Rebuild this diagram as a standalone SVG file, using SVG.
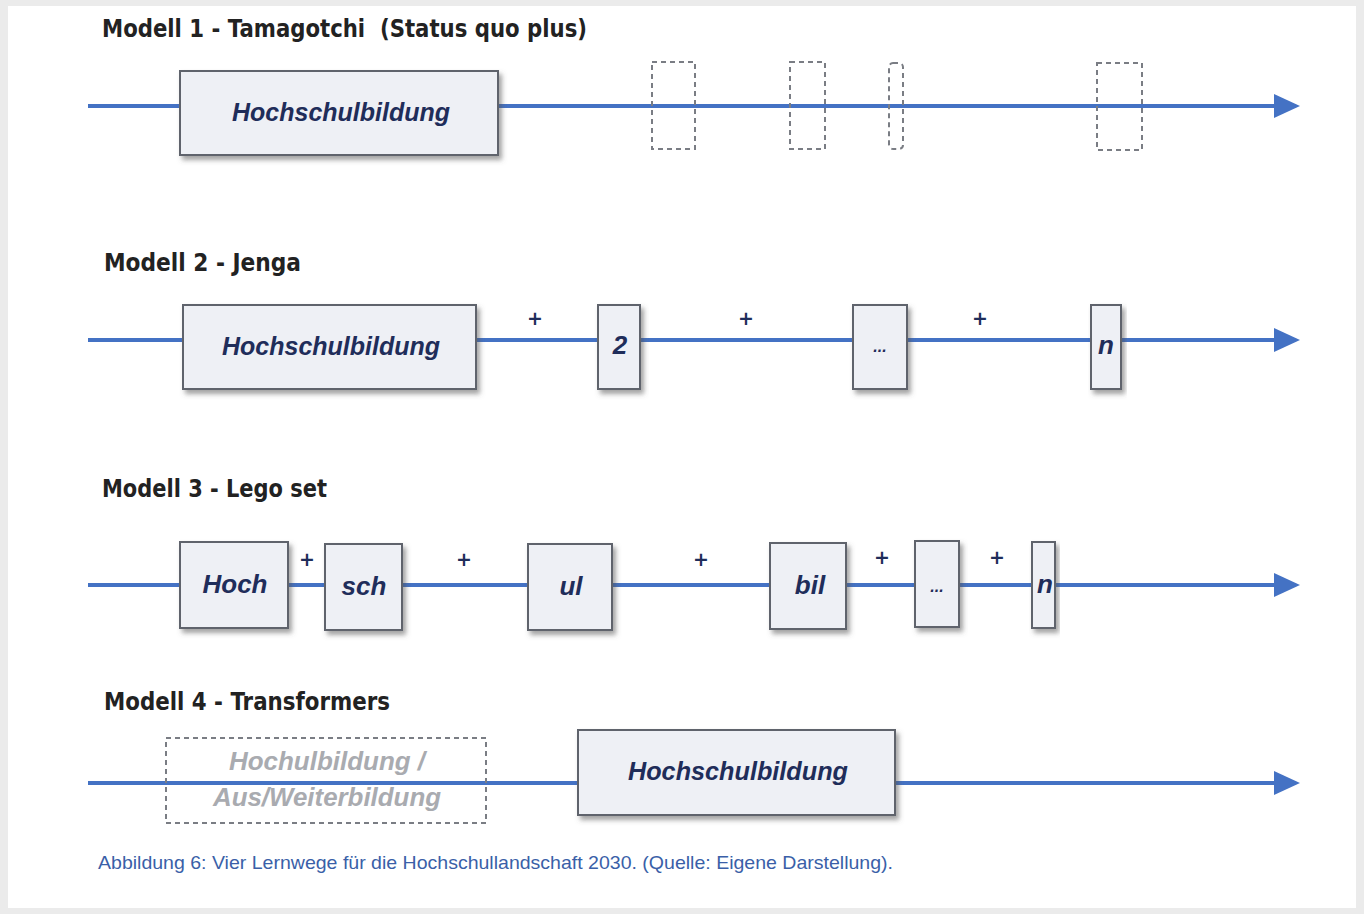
<svg xmlns="http://www.w3.org/2000/svg" width="1364" height="914" viewBox="0 0 1364 914">
<style>
.title{font-family:"DejaVu Sans",sans-serif;font-weight:bold;font-size:24px;fill:#222;white-space:pre}
.box{fill:#eef0f5;stroke:#5f636c;stroke-width:2}
.lbl{font-family:"Liberation Sans",Arial,sans-serif;font-weight:bold;font-style:italic;font-size:26px;fill:#1f2d5a;text-anchor:middle}
.dash{fill:none;stroke:#7a7d84;stroke-width:2;stroke-dasharray:5,4}
.line{stroke:#4472c4;stroke-width:4;fill:none}
.plus{font-family:"DejaVu Sans",sans-serif;font-weight:bold;font-size:19px;fill:#1f2d5a;text-anchor:middle}
.ghost{font-family:"Liberation Sans",Arial,sans-serif;font-weight:bold;font-style:italic;font-size:26px;fill:#a9abb0;text-anchor:middle}
</style>
<defs>
<filter id="sh" x="-10%" y="-10%" width="130%" height="130%">
<feDropShadow dx="3" dy="4" stdDeviation="2.5" flood-color="#555" flood-opacity="0.55"/>
</filter>
<marker id="ah" markerWidth="26" markerHeight="24" refX="2" refY="12" markerUnits="userSpaceOnUse" orient="auto">
<path d="M0,0 L26,12 L0,24 Z" fill="#4472c4"/>
</marker>
</defs>
<rect x="0" y="0" width="1364" height="914" fill="#ebebeb"/>
<rect x="8" y="6" width="1348" height="902" fill="#ffffff"/>

<g id="connectors">
<line class="line" x1="88" y1="106" x2="1276" y2="106" marker-end="url(#ah)"/>
<line class="line" x1="88" y1="340" x2="1276" y2="340" marker-end="url(#ah)"/>
<line class="line" x1="88" y1="585" x2="1276" y2="585" marker-end="url(#ah)"/>
<line class="line" x1="88" y1="783" x2="1276" y2="783" marker-end="url(#ah)"/>
</g>

<g id="titles">
<text class="title" x="102" y="37" textLength="485" lengthAdjust="spacingAndGlyphs" xml:space="preserve">Modell 1 - Tamagotchi  (Status quo plus)</text>
<text class="title" x="104" y="271" textLength="197" lengthAdjust="spacingAndGlyphs">Modell 2 - Jenga</text>
<text class="title" x="102" y="497" textLength="225" lengthAdjust="spacingAndGlyphs">Modell 3 - Lego set</text>
<text class="title" x="104" y="710" textLength="286" lengthAdjust="spacingAndGlyphs">Modell 4 - Transformers</text>
</g>

<!-- Model 1 -->
<g id="m1-hochschulbildung">
<rect class="box" x="180" y="71" width="318" height="84" filter="url(#sh)"/>
<text class="lbl" x="341" y="121" textLength="218" lengthAdjust="spacingAndGlyphs">Hochschulbildung</text>
</g>
<g id="m1-placeholders">
<rect class="dash" x="652" y="62" width="43" height="87"/>
<rect class="dash" x="790" y="62" width="35" height="87"/>
<rect class="dash" x="889" y="63" width="14" height="86" rx="4"/>
<rect class="dash" x="1097" y="63" width="45" height="87"/>
</g>

<!-- Model 2 -->
<g id="m2-hochschulbildung">
<rect class="box" x="183" y="305" width="293" height="84" filter="url(#sh)"/>
<text class="lbl" x="331" y="355" textLength="218" lengthAdjust="spacingAndGlyphs">Hochschulbildung</text>
</g>
<g id="m2-2">
<rect class="box" x="598" y="305" width="42" height="84" filter="url(#sh)"/>
<text class="lbl" x="620" y="354">2</text>
</g>
<g id="m2-dots">
<rect class="box" x="853" y="305" width="54" height="84" filter="url(#sh)"/>
<text class="lbl" x="880" y="352" style="font-size:16px">...</text>
</g>
<g id="m2-n">
<rect class="box" x="1091" y="305" width="30" height="84" filter="url(#sh)"/>
<text class="lbl" x="1106" y="354">n</text>
</g>
<g id="m2-plus">
<text class="plus" x="535" y="325">+</text>
<text class="plus" x="746" y="325">+</text>
<text class="plus" x="980" y="325">+</text>
</g>

<!-- Model 3 -->
<g id="m3-hoch">
<rect class="box" x="180" y="542" width="108" height="86" filter="url(#sh)"/>
<text class="lbl" x="235" y="593">Hoch</text>
</g>
<g id="m3-sch">
<rect class="box" x="325" y="544" width="77" height="86" filter="url(#sh)"/>
<text class="lbl" x="364" y="595">sch</text>
</g>
<g id="m3-ul">
<rect class="box" x="528" y="544" width="84" height="86" filter="url(#sh)"/>
<text class="lbl" x="571" y="595">ul</text>
</g>
<g id="m3-bil">
<rect class="box" x="770" y="543" width="76" height="86" filter="url(#sh)"/>
<text class="lbl" x="810" y="594">bil</text>
</g>
<g id="m3-dots">
<rect class="box" x="915" y="541" width="44" height="86" filter="url(#sh)"/>
<text class="lbl" x="937" y="592" style="font-size:16px">...</text>
</g>
<g id="m3-n">
<rect class="box" x="1032" y="542" width="23" height="86" filter="url(#sh)"/>
<text class="lbl" x="1045" y="593">n</text>
</g>
<g id="m3-plus">
<text class="plus" x="307" y="566">+</text>
<text class="plus" x="464" y="566">+</text>
<text class="plus" x="701" y="566">+</text>
<text class="plus" x="882" y="564">+</text>
<text class="plus" x="997" y="564">+</text>
</g>

<!-- Model 4 -->
<g id="m4-old">
<rect class="dash" x="166" y="738" width="320" height="85"/>
<text class="ghost" x="327" y="770" textLength="196" lengthAdjust="spacingAndGlyphs">Hochulbildung /</text>
<text class="ghost" x="327" y="806" textLength="228" lengthAdjust="spacingAndGlyphs">Aus/Weiterbildung</text>
</g>
<g id="m4-hochschulbildung">
<rect class="box" x="578" y="730" width="317" height="85" filter="url(#sh)"/>
<text class="lbl" x="738" y="780" textLength="220" lengthAdjust="spacingAndGlyphs">Hochschulbildung</text>
</g>

<text x="98" y="869" font-family="'Liberation Sans',Arial,sans-serif" font-size="19" fill="#3a5fa8" textLength="795" lengthAdjust="spacingAndGlyphs">Abbildung 6: Vier Lernwege für die Hochschullandschaft 2030. (Quelle: Eigene Darstellung).</text>
</svg>
